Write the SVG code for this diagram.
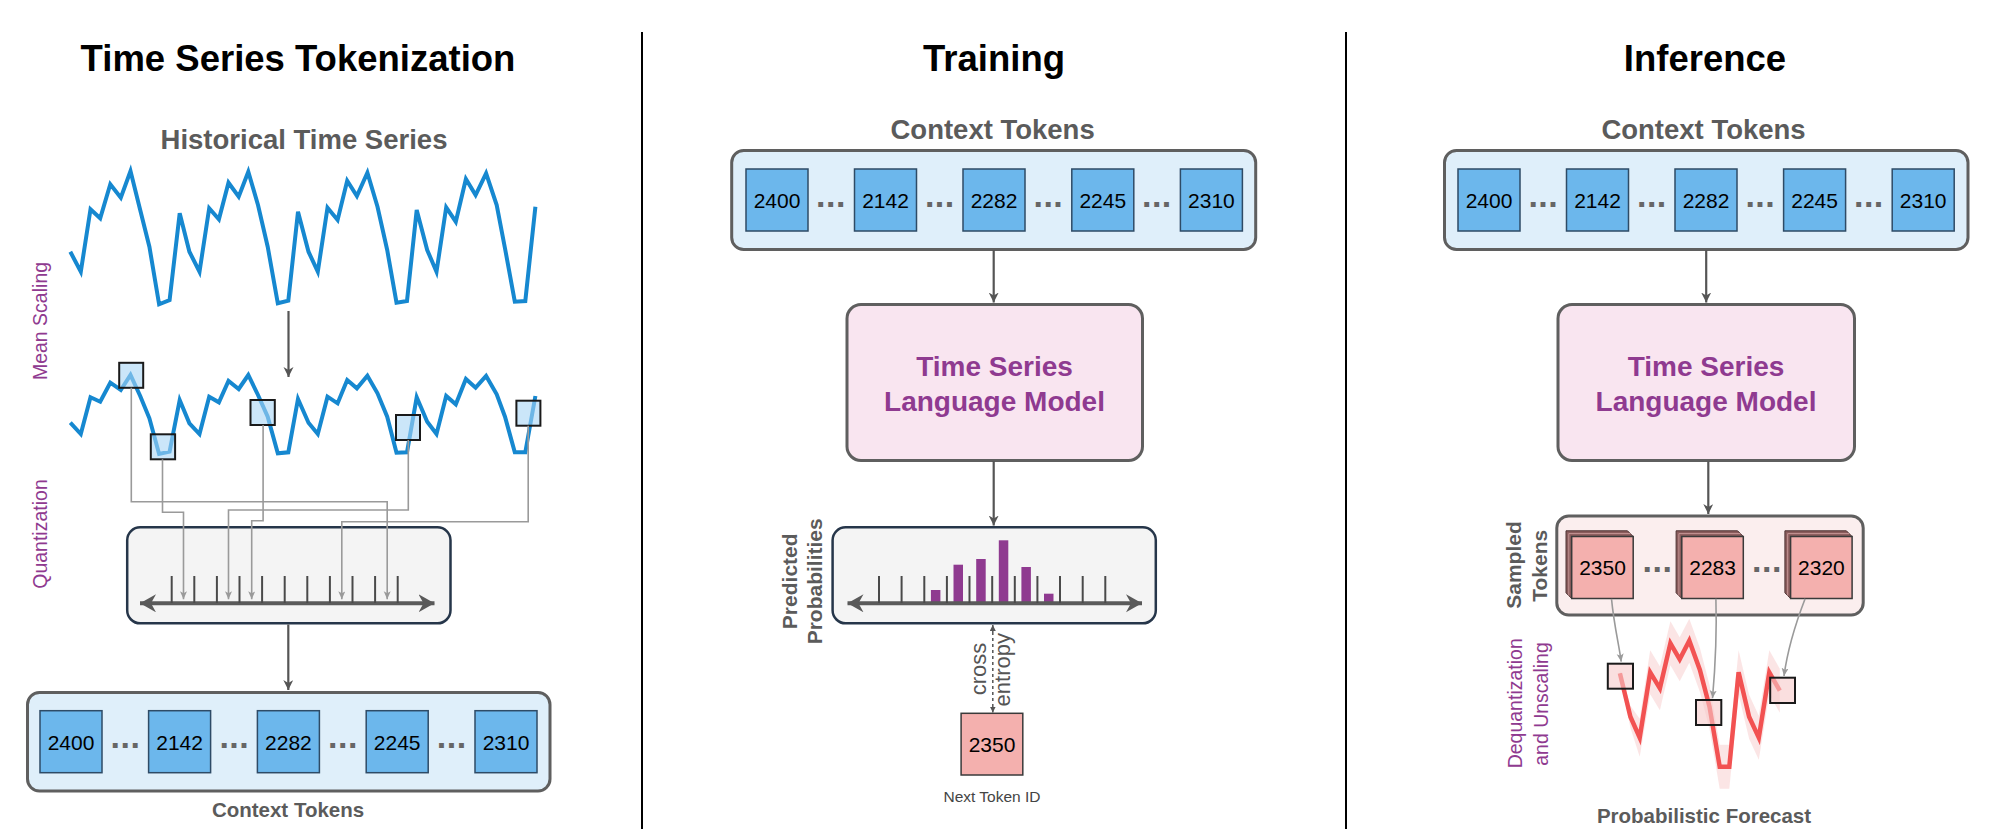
<svg xmlns="http://www.w3.org/2000/svg" width="2000" height="837" viewBox="0 0 2000 837">
<style>
text{font-family:"Liberation Sans",Arial,sans-serif}
.h1{font-size:36.5px;font-weight:bold;fill:#000;text-anchor:middle}
.h2{font-size:27.5px;font-weight:bold;fill:#5b5b5b;text-anchor:middle}
.h3{font-size:20.5px;font-weight:bold;fill:#5b5b5b;text-anchor:middle}
.rl{font-size:21px;font-weight:bold;fill:#5b5b5b;text-anchor:middle}
.pl{font-size:19.5px;fill:#8f3a90;text-anchor:middle}
.gl{font-size:22px;fill:#555;text-anchor:middle}
.tk{fill:#6cb7ec;stroke:#2e4b66;stroke-width:1.5}
.tkr{fill:#f4b0ae;stroke:#3a3a3a;stroke-width:1.5}
.tt{font-size:21px;fill:#000;text-anchor:middle}
.dots{font-size:34px;font-weight:bold;fill:#666;text-anchor:middle;letter-spacing:0.5px}
.ctx{fill:#dfeffa;stroke:#5f5f5f;stroke-width:3}
.mdl{fill:#f9e5f0;stroke:#5f5f5f;stroke-width:3}
.mt{font-size:28px;font-weight:bold;fill:#8f3a90;text-anchor:middle}
.qb{fill:#f4f4f4;stroke:#26364a;stroke-width:2.5}
.tick{stroke:#4a4a4a;stroke-width:2}
.nl{stroke:#5a5a5a;stroke-width:4;fill:none}
.dark{stroke:#555;stroke-width:2.2;fill:none}
.gray{stroke:#9a9a9a;stroke-width:1.6;fill:none}
.bsq{fill:#a9d6f5;fill-opacity:0.6;stroke:#1a1a1a;stroke-width:2}
.rsq{fill:#f7c9c9;fill-opacity:0.6;stroke:#1a1a1a;stroke-width:2}
.bar{fill:#8f3a90}
.side{fill:#8a5c5c;stroke:#4d3333;stroke-width:1}
.lay{fill:none;stroke:#c59595;stroke-width:1}
</style>
<defs>
<marker id="ad" markerUnits="userSpaceOnUse" markerWidth="12" markerHeight="12" refX="10" refY="5" orient="auto"><path d="M0,0 L10,5 L0,10 L3,5 Z" fill="#555"/></marker>
<marker id="ag" markerUnits="userSpaceOnUse" markerWidth="10" markerHeight="10" refX="8" refY="3.5" orient="auto"><path d="M0,0 L8,3.5 L0,7 L2,3.5 Z" fill="#9a9a9a"/></marker>
<marker id="as" markerUnits="userSpaceOnUse" markerWidth="8" markerHeight="8" refX="6" refY="3" orient="auto"><path d="M0,0 L6,3 L0,6 Z" fill="#555"/></marker>
<marker id="ab" markerUnits="userSpaceOnUse" markerWidth="18" markerHeight="20" refX="16" refY="9" orient="auto-start-reverse"><path d="M0,0 L16,9 L0,18 L5,9 Z" fill="#5a5a5a"/></marker>
</defs>
<rect width="2000" height="837" fill="#fff"/>

<g id="dividers">
<line x1="642" y1="32" x2="642" y2="829" stroke="#000" stroke-width="2"/>
<line x1="1346" y1="32" x2="1346" y2="829" stroke="#000" stroke-width="2"/>
</g>

<g id="titles">
<text class="h1" x="298" y="71">Time Series Tokenization</text>
<text class="h1" x="994" y="71">Training</text>
<text class="h1" x="1705" y="71">Inference</text>
</g>

<g id="historical-series">
<text class="h2" x="304" y="149">Historical Time Series</text>
<polyline fill="none" stroke="#1688d0" stroke-width="4" stroke-linejoin="miter" points="70.3,251.7 80.8,271.7 90.5,209.3 100.2,218.3 110.3,184.3 120.8,197.7 130.5,171 140.2,210 149.4,246.7 159.1,304.3 169.6,300 179.7,213.3 189.4,251.7 199.5,271.7 209.2,208.3 218.9,219.3 228.5,182.7 238.7,196.7 248.3,171.7 258,205 267.7,246.7 277.8,303.3 288.3,300.7 298,211.7 308.5,251.7 317.8,271.7 327.5,207.7 337.6,220 347.2,180.7 356.9,196 367.4,172.7 377.5,206.7 387.2,250 396.5,302.7 407,301 416.7,210 427.2,250 436.5,271.7 446.2,207.3 455.8,221.7 465.9,179 475.6,195 486.1,173.3 496.7,205 505,248.3 514.8,301.7 525.3,301 535.4,206.7"/>
<text class="pl" transform="translate(46.5,321) rotate(-90)">Mean Scaling</text>
</g>

<g id="scaled-series">
<polyline fill="none" stroke="#1688d0" stroke-width="4" points="70.3,422.7 80.8,434 90.5,397.3 100.2,401.7 110.3,382.7 120.8,390 130.5,375 140.2,396 149.4,418.3 159.1,454 169.6,451.7 179.7,400 189.4,423.3 199.5,434 209.2,396.7 218.9,402.3 228.5,381 238.7,389 248.3,375 258,395 267.7,416.7 277.8,453.3 288.3,452.3 298,399 308.5,422.7 317.8,434 327.5,396.7 337.6,403.3 347.2,380 356.9,388.3 367.4,375.7 377.5,393.3 387.2,416.7 396.5,452.7 407,452.3 416.7,397.3 427.2,421.7 436.5,434 446.2,396 455.8,404.3 465.9,379 475.6,387.7 486.1,376 496.7,394.3 505,416.7 514.8,452.3 525.3,452.3 535.4,396"/>
<rect class="bsq" x="119.2" y="362.8" width="24" height="25"/>
<rect class="bsq" x="150.8" y="434.3" width="24.3" height="25"/>
<rect class="bsq" x="250.5" y="400" width="24.3" height="25"/>
<rect class="bsq" x="396" y="415" width="24" height="25"/>
<rect class="bsq" x="516.4" y="400.7" width="24" height="25"/>
</g>

<g id="quantization">
<rect class="qb" x="127.2" y="527.3" width="323.3" height="96" rx="13"/>
<line class="nl" x1="140" y1="603.3" x2="434.5" y2="603.3" marker-start="url(#ab)" marker-end="url(#ab)"/>
<g class="tick">
<line x1="171.7" y1="576" x2="171.7" y2="603"/><line x1="194.3" y1="576" x2="194.3" y2="603"/><line x1="216.9" y1="576" x2="216.9" y2="603"/><line x1="239.5" y1="576" x2="239.5" y2="603"/><line x1="262.1" y1="576" x2="262.1" y2="603"/><line x1="284.7" y1="576" x2="284.7" y2="603"/><line x1="307.3" y1="576" x2="307.3" y2="603"/><line x1="329.9" y1="576" x2="329.9" y2="603"/><line x1="352.5" y1="576" x2="352.5" y2="603"/><line x1="375.1" y1="576" x2="375.1" y2="603"/><line x1="397.7" y1="576" x2="397.7" y2="603"/>
</g>
<text class="pl" transform="translate(46.5,534) rotate(-90)">Quantization</text>
</g>

<g id="context-tokens-left">
<rect class="ctx" x="27.5" y="692.5" width="522.5" height="98.5" rx="12"/>
<rect class="tk" x="40" y="710.7" width="62" height="62"/><text class="tt" x="71" y="750">2400</text>
<rect class="tk" x="148.6" y="710.7" width="62" height="62"/><text class="tt" x="179.6" y="750">2142</text>
<rect class="tk" x="257.4" y="710.7" width="62" height="62"/><text class="tt" x="288.4" y="750">2282</text>
<rect class="tk" x="366.2" y="710.7" width="62" height="62"/><text class="tt" x="397.2" y="750">2245</text>
<rect class="tk" x="475" y="710.7" width="62" height="62"/><text class="tt" x="506" y="750">2310</text>
<text class="dots" x="125.5" y="748.4">...</text>
<text class="dots" x="234.3" y="748.4">...</text>
<text class="dots" x="343" y="748.4">...</text>
<text class="dots" x="451.7" y="748.4">...</text>
<text class="h3" x="288" y="817">Context Tokens</text>
</g>

<g id="context-tokens-train">
<text class="h2" x="992.6" y="139">Context Tokens</text>
<rect class="ctx" x="731.7" y="150.5" width="524" height="99" rx="12"/>
<rect class="tk" x="746" y="169" width="62" height="62"/><text class="tt" x="777" y="208.3">2400</text>
<rect class="tk" x="854.5" y="169" width="62" height="62"/><text class="tt" x="885.5" y="208.3">2142</text>
<rect class="tk" x="963" y="169" width="62" height="62"/><text class="tt" x="994" y="208.3">2282</text>
<rect class="tk" x="1071.8" y="169" width="62" height="62"/><text class="tt" x="1102.8" y="208.3">2245</text>
<rect class="tk" x="1180.4" y="169" width="62" height="62"/><text class="tt" x="1211.4" y="208.3">2310</text>
<text class="dots" x="831" y="206.7">...</text>
<text class="dots" x="939.8" y="206.7">...</text>
<text class="dots" x="1048.4" y="206.7">...</text>
<text class="dots" x="1156.9" y="206.7">...</text>
</g>

<g id="model-train">
<rect class="mdl" x="847" y="304.5" width="295.5" height="156" rx="14"/>
<text class="mt" x="994.5" y="375.7">Time Series</text>
<text class="mt" x="994.5" y="410.7">Language Model</text>
</g>

<g id="predicted-probabilities">
<rect class="qb" x="832.6" y="527.3" width="323.2" height="96" rx="13"/>
<rect class="bar" x="930.9" y="590" width="9.5" height="13"/>
<rect class="bar" x="953.5" y="564.7" width="9.5" height="38.3"/>
<rect class="bar" x="976.2" y="559" width="9.5" height="44"/>
<rect class="bar" x="998.8" y="540.3" width="9.5" height="62.7"/>
<rect class="bar" x="1021.4" y="567" width="9.5" height="36"/>
<rect class="bar" x="1044" y="593.7" width="9.5" height="9.3"/>
<line class="nl" x1="847.5" y1="603.3" x2="1142" y2="603.3" marker-start="url(#ab)" marker-end="url(#ab)"/>
<g class="tick">
<line x1="879" y1="576" x2="879" y2="603"/><line x1="901.6" y1="576" x2="901.6" y2="603"/><line x1="924.3" y1="576" x2="924.3" y2="603"/><line x1="946.9" y1="576" x2="946.9" y2="603"/><line x1="969.5" y1="576" x2="969.5" y2="603"/><line x1="992.2" y1="576" x2="992.2" y2="603"/><line x1="1014.8" y1="576" x2="1014.8" y2="603"/><line x1="1037.4" y1="576" x2="1037.4" y2="603"/><line x1="1060" y1="576" x2="1060" y2="603"/><line x1="1082.7" y1="576" x2="1082.7" y2="603"/><line x1="1105.3" y1="576" x2="1105.3" y2="603"/>
</g>
<text class="rl" transform="translate(796.7,581.3) rotate(-90)">Predicted</text>
<text class="rl" transform="translate(822,581.3) rotate(-90)">Probabilities</text>
</g>

<g id="next-token">
<rect class="tkr" x="961.1" y="713.3" width="61.7" height="61.7"/>
<text class="tt" x="992" y="751.7">2350</text>
<text x="992" y="802.3" font-size="15.5" fill="#444" text-anchor="middle">Next Token ID</text>
</g>

<g id="context-tokens-infer">
<text class="h2" x="1703.5" y="139">Context Tokens</text>
<rect class="ctx" x="1444.5" y="150.5" width="523.5" height="99" rx="12"/>
<rect class="tk" x="1458" y="169" width="62" height="62"/><text class="tt" x="1489" y="208.3">2400</text>
<rect class="tk" x="1566.5" y="169" width="62" height="62"/><text class="tt" x="1597.5" y="208.3">2142</text>
<rect class="tk" x="1675" y="169" width="62" height="62"/><text class="tt" x="1706" y="208.3">2282</text>
<rect class="tk" x="1783.6" y="169" width="62" height="62"/><text class="tt" x="1814.6" y="208.3">2245</text>
<rect class="tk" x="1892.2" y="169" width="62" height="62"/><text class="tt" x="1923.2" y="208.3">2310</text>
<text class="dots" x="1543.3" y="206.7">...</text>
<text class="dots" x="1651.9" y="206.7">...</text>
<text class="dots" x="1760.3" y="206.7">...</text>
<text class="dots" x="1868.9" y="206.7">...</text>
</g>

<g id="model-infer">
<rect class="mdl" x="1558" y="304.5" width="296.5" height="156" rx="14"/>
<text class="mt" x="1706" y="375.7">Time Series</text>
<text class="mt" x="1706" y="410.7">Language Model</text>
</g>

<g id="sampled-tokens">
<rect x="1556.8" y="516" width="306.4" height="99" rx="12" fill="#fbeeee" stroke="#5f5f5f" stroke-width="3"/>
<polygon class="side" points="1571.7,598.5 1566,592.8 1566,530.8 1627.5,530.8 1633.2,536.5 1571.7,536.5"/>
<polyline class="lay" points="1568.8,595.6 1568.8,533.6 1630.3,533.6"/>
<rect class="tkr" x="1571.7" y="536.5" width="61.5" height="62"/><text class="tt" x="1602.5" y="575">2350</text>
<polygon class="side" points="1681.8,598.5 1676.1,592.8 1676.1,530.8 1737.6,530.8 1743.3,536.5 1681.8,536.5"/>
<polyline class="lay" points="1678.9,595.6 1678.9,533.6 1740.4,533.6"/>
<rect class="tkr" x="1681.8" y="536.5" width="61.5" height="62"/><text class="tt" x="1712.6" y="575">2283</text>
<polygon class="side" points="1790.6,598.5 1784.9,592.8 1784.9,530.8 1846.4,530.8 1852.1,536.5 1790.6,536.5"/>
<polyline class="lay" points="1787.7,595.6 1787.7,533.6 1849.2,533.6"/>
<rect class="tkr" x="1790.6" y="536.5" width="61.5" height="62"/><text class="tt" x="1821.4" y="575">2320</text>
<text class="dots" x="1657.5" y="572.4">...</text>
<text class="dots" x="1767" y="572.4">...</text>
<text class="rl" transform="translate(1521,565) rotate(-90)">Sampled</text>
<text class="rl" transform="translate(1547,565.8) rotate(-90)">Tokens</text>
</g>

<g id="forecast">
<polygon fill="#f9d3d3" fill-opacity="0.6" points="1619.9,670.3 1630.4,705.7 1639.7,718.7 1650.2,650.3 1659.9,666.3 1670.4,621.3 1679.7,637.3 1689.3,618.7 1699.9,648 1709.5,684.7 1719.7,744.7 1729.3,744.7 1738.6,650.3 1749.1,694.7 1758.8,715.7 1769.3,650.3 1779.8,668.7 1779.8,712.7 1769.3,694.3 1758.8,759.7 1749.1,738.7 1738.6,694.3 1729.3,788.7 1719.7,788.7 1709.5,728.7 1699.9,692 1689.3,662.7 1679.7,681.3 1670.4,665.3 1659.9,710.3 1650.2,694.3 1639.7,756.7 1630.4,727.7 1619.9,676.3"/>
<polyline fill="none" stroke="#f25252" stroke-width="4.5" points="1619.9,673.3 1630.4,716.7 1639.7,737.7 1650.2,672.3 1659.9,688.3 1670.4,643.3 1679.7,659.3 1689.3,640.7 1699.9,670 1709.5,706.7 1719.7,766.7 1729.3,766.7 1738.6,672.3 1749.1,716.7 1758.8,737.7 1769.3,672.3 1779.8,690.7"/>
<rect class="rsq" x="1607.8" y="663.7" width="25.2" height="25"/>
<rect class="rsq" x="1696" y="700" width="25.3" height="25"/>
<rect class="rsq" x="1770.2" y="677.7" width="24.8" height="25.3"/>
<text class="pl" font-size="20px" transform="translate(1522,703.3) rotate(-90)">Dequantization</text>
<text class="pl" font-size="20px" transform="translate(1548,704) rotate(-90)">and Unscaling</text>
<text class="h3" x="1704" y="823.3">Probabilistic Forecast</text>
</g>

<g id="connectors">
<line class="dark" x1="288.5" y1="311" x2="288.5" y2="377" marker-end="url(#ad)"/>
<line class="dark" x1="288.3" y1="624.5" x2="288.3" y2="690" marker-end="url(#ad)"/>
<path class="gray" d="M131.3,387.7 V501.7 H387.2 V599.3" marker-end="url(#ag)"/>
<path class="gray" d="M162.5,459.3 V512.3 H183.5 V599.3" marker-end="url(#ag)"/>
<path class="gray" d="M263.1,425 V520.7 H251.7 V599.3" marker-end="url(#ag)"/>
<path class="gray" d="M408.3,440 V510 H228.5 V599.3" marker-end="url(#ag)"/>
<path class="gray" d="M528.2,425.7 V521.7 H341.8 V599.3" marker-end="url(#ag)"/>
<line class="dark" x1="993.7" y1="250" x2="993.7" y2="302.5" marker-end="url(#ad)"/>
<line class="dark" x1="993.7" y1="461" x2="993.7" y2="525.5" marker-end="url(#ad)"/>
<line x1="992.8" y1="632" x2="992.8" y2="705" stroke="#555" stroke-width="1.5" stroke-dasharray="3,3"/>
<line x1="992.8" y1="632" x2="992.8" y2="625" stroke="#555" stroke-width="1.5" marker-end="url(#as)"/>
<line x1="992.8" y1="705" x2="992.8" y2="712.5" stroke="#555" stroke-width="1.5" marker-end="url(#as)"/>
<text class="gl" transform="translate(986,669) rotate(-90)">cross</text>
<text class="gl" transform="translate(1010,669.7) rotate(-90)">entropy</text>
<line class="dark" x1="1706.2" y1="250" x2="1706.2" y2="302.5" marker-end="url(#ad)"/>
<line class="dark" x1="1708.3" y1="461.5" x2="1708.3" y2="514" marker-end="url(#ad)"/>
<path class="gray" d="M1611.5,598.8 C1614,625 1619,645 1621.2,661.7" marker-end="url(#ag)"/>
<path class="gray" d="M1715.9,598.8 C1717,635 1715,670 1712.5,698.3" marker-end="url(#ag)"/>
<path class="gray" d="M1805.1,598.8 C1795,625 1787.5,650 1784,676" marker-end="url(#ag)"/>
</g>
</svg>
